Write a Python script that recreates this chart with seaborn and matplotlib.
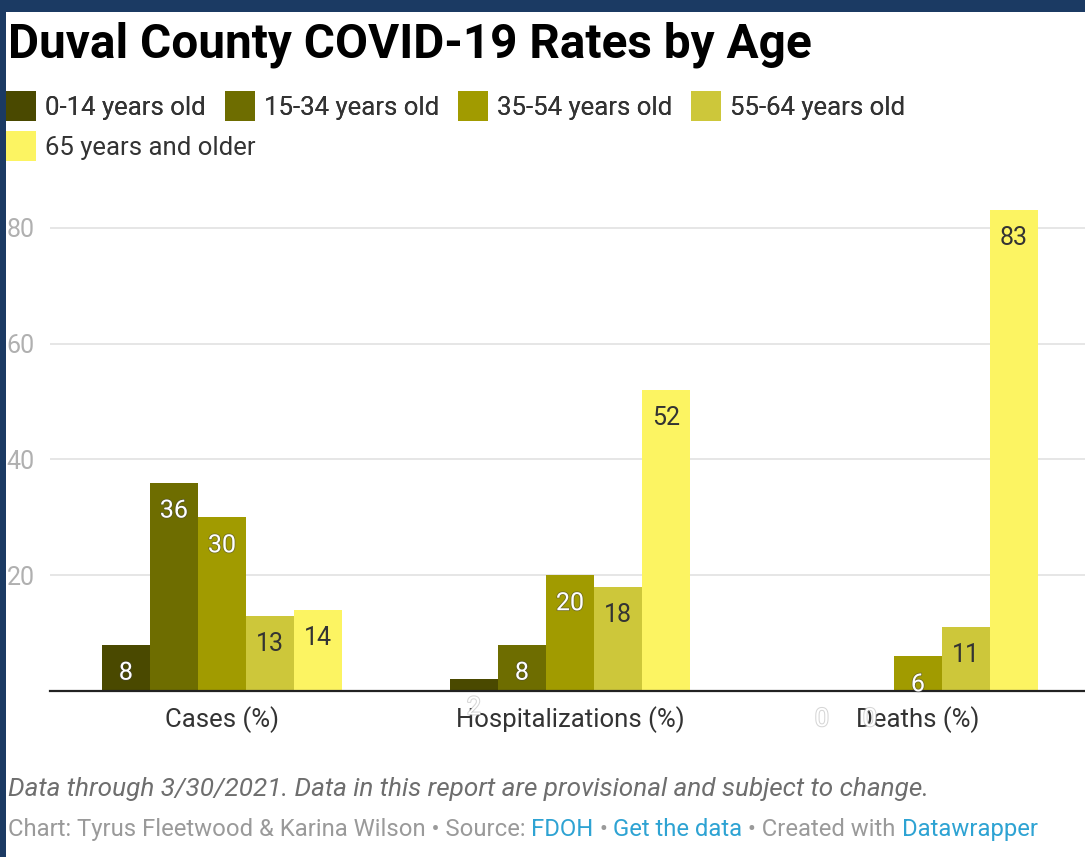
import numpy as np
import pandas as pd
import matplotlib.pyplot as plt
import matplotlib.patheffects as pe
from matplotlib.lines import Line2D
from matplotlib.patches import Rectangle
import seaborn as sns

categories = ["Cases (%)", "Hospitalizations (%)", "Deaths (%)"]
age_groups = ["0-14 years old", "15-34 years old", "35-54 years old",
              "55-64 years old", "65 years and older"]
cases = [8, 36, 30, 13, 14]
hospitalizations = [2, 8, 20, 18, 52]
deaths = [0, 0, 6, 11, 83]
colors = ["#4a4900", "#6e6d00", "#a19b00", "#cdc73a", "#fcf462"]
label_colors = ["white", "white", "white", "#333333", "#333333"]
y_ticks = [20, 40, 60, 80]

title = "Duval County COVID-19 Rates by Age"
note = "Data through 3/30/2021. Data in this report are provisional and subject to change."
credits = [("Chart: Tyrus Fleetwood & Karina Wilson \u2022 Source: ", "#9a9a9a"),
           ("FDOH", "#2ea3d3"), (" \u2022 ", "#9a9a9a"), ("Get the data", "#2ea3d3"),
           (" \u2022 Created with ", "#9a9a9a"), ("Datawrapper", "#2ea3d3")]

df = pd.DataFrame({
    "category": np.repeat(categories, len(age_groups)),
    "age": age_groups * len(categories),
    "value": cases + hospitalizations + deaths,
})

sns.set_theme(style="white")
plt.rcParams["font.family"] = ["Roboto", "DejaVu Sans"]

W, H = 1085, 857
fig = plt.figure(figsize=(W / 100, H / 100), dpi=100)
fig.set_facecolor("#1b3a63")
fig.patches.append(Rectangle((6 / W, 0), 1, 1 - 12 / H, transform=fig.transFigure,
                             facecolor="white", edgecolor="none", zorder=-10))

ax = fig.add_axes([50 / W, 166 / H, 1 - 50 / W, 498 / H])
sns.barplot(data=df, x="category", y="value", hue="age", hue_order=age_groups,
            palette=colors, width=0.69, saturation=1, linewidth=0,
            legend=False, ax=ax)
ax.set_facecolor("none")
ax.set_xlim(-0.494, 2.48)
ax.set_ylim(0, 86)
ax.set_yticks(y_ticks)
ax.set_xlabel("")
ax.set_ylabel("")
ax.yaxis.grid(True, color="#e4e4e4", linewidth=1.3)
ax.set_axisbelow(True)
for s in ["top", "right", "left"]:
    ax.spines[s].set_visible(False)
ax.spines["bottom"].set_color("#222222")
ax.spines["bottom"].set_linewidth(1.6)
ax.spines["bottom"].set_zorder(5)
ax.tick_params(axis="x", length=0, pad=11, labelsize=18.5, labelcolor="#333333")
ax.tick_params(axis="y", length=0, pad=11, labelsize=18, labelcolor="#b0b0b0")

# value labels just inside the top of each bar
for container, lc in zip(ax.containers, label_colors):
    for bar in container:
        h = bar.get_height()
        if h < 3:
            # too short: datawrapper leaves a faint ghost label
            kw = dict(color="white", path_effects=[
                pe.withStroke(linewidth=1.5, foreground="#bbbbbb", alpha=0.6)])
        elif lc == "white":
            kw = dict(color=lc, path_effects=[
                pe.withStroke(linewidth=1.2, foreground="#444444", alpha=0.5)])
        else:
            kw = dict(color=lc)
        ax.annotate(f"{h:.0f}", (bar.get_x() + bar.get_width() / 2, h),
                    xytext=(0, -28), textcoords="offset pixels",
                    ha="center", va="center", fontsize=18, zorder=6, **kw)

# legend, flowing over two rows
handles = [Line2D([], [], marker="s", linestyle="none", markersize=21.5,
                  markerfacecolor=c, markeredgewidth=0) for c in colors]
leg_kw = dict(loc="center left", frameon=False, fontsize=18.5, labelcolor="#333333",
              handlelength=1.2, handletextpad=0.33, columnspacing=0.72,
              borderpad=0, borderaxespad=0)
leg1 = fig.legend(handles[:4], age_groups[:4], ncol=4,
                  bbox_to_anchor=(6 / W, 1 - 108 / H), **leg_kw)
fig.legend(handles[4:], age_groups[4:], ncol=1,
           bbox_to_anchor=(6 / W, 1 - 148 / H), **leg_kw)
fig.add_artist(leg1)

fig.text(8 / W, 1 - 57 / H, title, fontsize=34.4, fontweight="bold",
         color="black", va="baseline")
fig.text(8 / W, 1 - 796 / H, note, fontsize=18.8, style="italic",
         color="#6e6e6e", va="baseline")

renderer = fig.canvas.get_renderer()
x = 8
for txt, col in credits:
    t = fig.text(x / W, 1 - 836 / H, txt, fontsize=17.2, color=col, va="baseline")
    x = t.get_window_extent(renderer).x1

fig.savefig("out.png", dpi=100, facecolor=fig.get_facecolor())
